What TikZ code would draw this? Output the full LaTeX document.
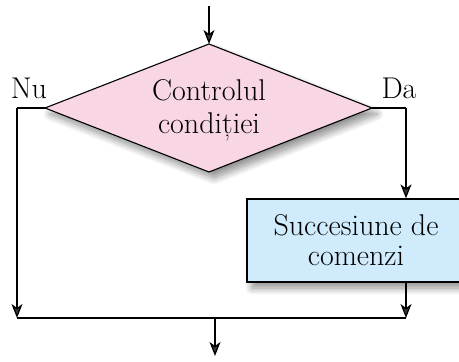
\documentclass[tikz,border=0pt]{standalone}
\usetikzlibrary{arrows.meta,shadows.blur}
\definecolor{condfill}{RGB}{249,214,230}
\definecolor{blockfill}{RGB}{208,235,251}
\begin{document}
\begin{tikzpicture}[x=1pt,y=-1pt,
  line width=1.3pt,
  flow/.style={-{Stealth[length=14pt,width=11pt,inset=4pt]}},
  softshadow/.style={blur shadow={shadow xshift=5pt,shadow yshift=-6pt,shadow blur radius=7pt,shadow blur steps=12,shadow opacity=45}},
  label/.style={font=\fontsize{30}{33}\selectfont,inner sep=0pt},
  blockbox/.style={draw,fill=blockfill,softshadow,minimum width=218pt,minimum height=83pt,
    align=center,font=\fontsize{30}{30}\selectfont,inner sep=0pt}]
\useasboundingbox (0,0) rectangle (459,362);

% decision diamond
\coordinate (dt) at (209,44);
\coordinate (dl) at (45,108);
\coordinate (dr) at (372,108);
\coordinate (db) at (209,172);
\path[fill=condfill,draw,line width=1.1pt,softshadow] (dt) -- (dr) -- (db) -- (dl) -- cycle;
\node[label,align=center,font=\fontsize{30}{33}\selectfont] (cond) at (209,110) {Controlul\\condiției};

% branch labels
\node[label,anchor=base] (nu) at (29,98) {Nu};
\node[label,anchor=base] (da) at (399,98) {Da};

% command block
\node[blockbox] (block) at (356,240.5) {Succesiune de\\comenzi};

% connectors
\coordinate (in) at (209,6);
\coordinate (nucorner) at (17,108);
\coordinate (dacorner) at (406,108);
\coordinate (joinL) at (17,318);
\coordinate (joinR) at (406,318);
\coordinate (joinM) at (215,318);
\coordinate (out) at (215,356);

\draw[flow] (in) -- (dt);
\draw (dl) -- (nucorner);
\draw[flow] (nucorner) -- (joinL);
\draw (dr) -- (dacorner);
\draw[flow] (dacorner) -- (dacorner |- block.north);
\draw[flow] (dacorner |- block.south) -- (joinR);
\draw (joinL) -- (joinR);
\draw[flow] (joinM) -- (out);
\end{tikzpicture}
\end{document}
